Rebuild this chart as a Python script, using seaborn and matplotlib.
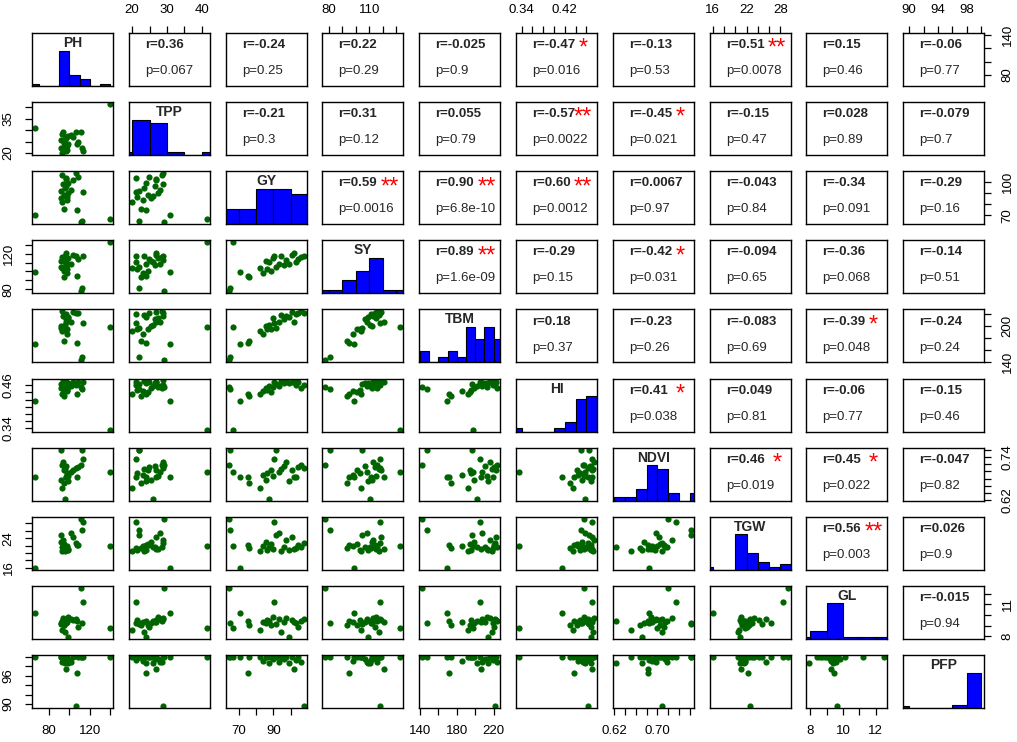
import numpy as np
import pandas as pd
import matplotlib
matplotlib.use("Agg")
import matplotlib.pyplot as plt
from matplotlib.ticker import MultipleLocator, FuncFormatter
import seaborn as sns

sns.set_style("white")
plt.rcParams["font.family"] = ["Liberation Sans", "DejaVu Sans"]

variables = ["PH", "TPP", "GY", "SY", "TBM", "HI", "NDVI", "TGW", "GL", "PFP"]

# one value per plot (26 plots)
PH = [66.3, 139.8, 111.0, 112.0, 113.0, 106.0, 107.0, 96.8, 95.0, 93.0, 97.5, 92.0, 98.0,
      96.0, 94.5, 99.0, 91.5, 102.0, 95.5, 97.0, 93.5, 98.5, 104.0, 96.5, 108.0, 92.5]
TPP = [31.0, 41.5, 29.2, 22.0, 21.0, 29.0, 24.0, 26.9, 22.5, 19.9, 23.0, 25.5, 21.5,
       26.0, 24.5, 27.5, 22.0, 28.0, 23.5, 26.5, 29.0, 24.0, 27.0, 21.0, 24.8, 28.5]
GY = [70.5, 66.5, 64.0, 65.0, 90.5, 107.5, 75.0, 102.0, 76.0, 82.0, 84.0, 85.5, 86.5,
      87.5, 88.5, 89.5, 91.5, 93.0, 94.5, 96.0, 97.5, 99.0, 101.0, 103.0, 104.5, 106.0]
SY = [99.0, 133.0, 77.6, 81.0, 118.0, 118.0, 95.3, 121.0, 93.5, 104.0, 98.0, 112.0, 103.0,
      110.5, 101.0, 115.0, 105.0, 108.0, 117.0, 107.0, 113.0, 109.0, 119.0, 111.0, 114.0, 116.0]
TBM = [169.5, 198.0, 142.5, 148.0, 205.0, 222.0, 172.0, 206.0, 174.0, 192.0, 186.0, 199.0, 195.0,
       202.0, 194.0, 213.0, 197.0, 207.0, 218.0, 211.0, 216.0, 214.0, 223.0, 219.0, 221.0, 224.0]
HI = [0.415, 0.335, 0.455, 0.450, 0.470, 0.462, 0.437, 0.470, 0.430, 0.435, 0.445, 0.452, 0.448,
      0.457, 0.442, 0.455, 0.465, 0.458, 0.472, 0.466, 0.474, 0.468, 0.471, 0.462, 0.469, 0.453]
NDVI = [0.685, 0.699, 0.719, 0.762, 0.735, 0.709, 0.683, 0.683, 0.668, 0.652, 0.690, 0.675, 0.695,
        0.623, 0.705, 0.688, 0.762, 0.698, 0.708, 0.715, 0.728, 0.672, 0.703, 0.685, 0.712, 0.718]
TGW = [15.96, 21.8, 29.3, 26.3, 28.5, 22.7, 22.2, 21.0, 21.2, 20.6, 21.8, 23.0, 20.8,
       21.5, 22.5, 21.0, 24.8, 25.5, 20.4, 21.6, 23.4, 20.9, 24.3, 21.3, 22.1, 21.7]
GL = [10.15, 8.73, 12.54, 9.2, 11.24, 9.65, 9.45, 9.3, 9.1, 8.6, 9.3, 9.2, 9.55,
      9.4, 9.05, 9.8, 9.15, 9.6, 8.4, 9.35, 9.7, 7.95, 9.5, 9.25, 8.9, 9.45]
PFP = [100.0, 100.0, 100.0, 100.0, 100.0, 89.6, 96.5, 97.5, 100.0, 100.0, 99.2, 100.0, 100.0,
       98.7, 100.0, 99.5, 100.0, 98.9, 100.0, 99.6, 100.0, 98.8, 100.0, 99.3, 100.0, 99.0]

# correlation labels of the upper panels, row by row
r_text = [
    ["0.36", "-0.24", "0.22", "-0.025", "-0.47", "-0.13", "0.51", "0.15", "-0.06"],
    ["-0.21", "0.31", "0.055", "-0.57", "-0.45", "-0.15", "0.028", "-0.079"],
    ["0.59", "0.90", "0.60", "0.0067", "-0.043", "-0.34", "-0.29"],
    ["0.89", "-0.29", "-0.42", "-0.094", "-0.36", "-0.14"],
    ["0.18", "-0.23", "-0.083", "-0.39", "-0.24"],
    ["0.41", "0.049", "-0.06", "-0.15"],
    ["0.46", "0.45", "-0.047"],
    ["0.56", "0.026"],
    ["-0.015"],
]
p_text = [
    ["0.067", "0.25", "0.29", "0.9", "0.016", "0.53", "0.0078", "0.46", "0.77"],
    ["0.3", "0.12", "0.79", "0.0022", "0.021", "0.47", "0.89", "0.7"],
    ["0.0016", "6.8e-10", "0.0012", "0.97", "0.84", "0.091", "0.16"],
    ["1.6e-09", "0.15", "0.031", "0.65", "0.068", "0.51"],
    ["0.37", "0.26", "0.69", "0.048", "0.24"],
    ["0.038", "0.81", "0.77", "0.46"],
    ["0.019", "0.022", "0.82"],
    ["0.003", "0.9"],
    ["0.94"],
]

bin_width = [10, 5, 10, 10, 10, 0.02, 0.02, 2, 1, 2]
tick_step = [20, 5, 10, 10, 20, 0.02, 0.02, 2, 1, 2]
tick_fmt = ["{:g}", "{:g}", "{:g}", "{:g}", "{:g}", "{:.2f}", "{:.2f}", "{:g}", "{:g}", "{:g}"]
x_labelled = [[80, 120], [20, 30, 40], [70, 90], [80, 110], [140, 180, 220],
              [0.34, 0.42], [0.62, 0.70], [16, 22, 28], [8, 10, 12], [90, 94, 98]]
y_labelled = [[80, 140], [20, 35], [70, 100], [80, 120], [140, 200],
              [0.34, 0.46], [0.62, 0.74], [16, 24], [8, 11], [90, 96]]

df = pd.DataFrame({"PH": PH, "TPP": TPP, "GY": GY, "SY": SY, "TBM": TBM,
                   "HI": HI, "NDVI": NDVI, "TGW": TGW, "GL": GL, "PFP": PFP})
n = len(variables)

lims = []
for v in variables:
    lo, hi = df[v].min(), df[v].max()
    pad = 0.04 * (hi - lo)
    lims.append((lo - pad, hi + pad))


def make_formatter(k, labelled):
    def f(val, pos):
        for lv in labelled:
            if np.isclose(val, lv, atol=1e-6):
                return tick_fmt[k].format(lv)
        return ""
    return FuncFormatter(f)


W, H = 1017, 742
fig = plt.figure(figsize=(W / 100, H / 100), dpi=100)
green = "#006400"

for i in range(n):
    for j in range(n):
        x0 = (32 + j * 96.8) / W
        y0 = 1 - (33 + i * 69.1 + 53) / H
        ax = fig.add_axes([x0, y0, 81 / W, 53 / H])
        xv, yv = variables[j], variables[i]

        if i == j:
            edges = np.arange(np.floor(df[xv].min() / bin_width[j]) * bin_width[j],
                              df[xv].max() + bin_width[j], bin_width[j])
            counts = np.histogram(df[xv], bins=edges)[0]
            sns.histplot(x=df[xv], bins=edges, ax=ax, color="blue", edgecolor="black",
                         linewidth=0.8, alpha=1)
            ax.set_xlim(lims[j])
            ax.set_ylim(0, counts.max() * 1.5)
            ax.text(0.5, 0.81, xv, transform=ax.transAxes, ha="center", va="center",
                    fontsize=10, fontweight="bold")
        elif i > j:
            sns.scatterplot(x=df[xv], y=df[yv], ax=ax, color=green, s=20, linewidth=0,
                            legend=False)
            ax.set_xlim(lims[j])
            ax.set_ylim(lims[i])
        else:
            ax.set_xlim(lims[j])
            ax.set_ylim(lims[i])
            r = r_text[i][j - i - 1]
            p = p_text[i][j - i - 1]
            ax.text(0.2, 0.77, "r=" + r, transform=ax.transAxes, ha="left", va="center",
                    fontsize=9.5, fontweight="bold")
            ax.text(0.2, 0.28, "p=" + p, transform=ax.transAxes, ha="left", va="center",
                    fontsize=9.5)
            pv = float(p)
            stars = "**" if pv < 0.01 else ("*" if pv < 0.05 else "")
            if stars:
                ax.text(0.83, 0.70, stars, transform=ax.transAxes, ha="center",
                        va="center", fontsize=17, color="red")

        ax.set_xlabel("")
        ax.set_ylabel("")
        for s in ax.spines.values():
            s.set_linewidth(1.0)
            s.set_color("black")

        ax.tick_params(axis="both", which="both", bottom=False, top=False, left=False,
                       right=False, labelbottom=False, labeltop=False, labelleft=False,
                       labelright=False, direction="out", length=5, width=0.9,
                       labelsize=9.5, pad=7.5, colors="black")
        ax.xaxis.set_major_locator(MultipleLocator(tick_step[j]))
        ax.yaxis.set_major_locator(MultipleLocator(tick_step[i]))
        ax.xaxis.set_major_formatter(make_formatter(j, x_labelled[j]))
        ax.yaxis.set_major_formatter(make_formatter(i, y_labelled[i]))
        if i == 0 and j % 2 == 1:
            ax.tick_params(axis="x", top=True, labeltop=True)
        if i == n - 1 and j % 2 == 0:
            ax.tick_params(axis="x", bottom=True, labelbottom=True)
        if j == 0 and i % 2 == 1:
            ax.tick_params(axis="y", left=True, labelleft=True)
            for t in ax.get_yticklabels():
                t.set_rotation(90)
                t.set_va("center")
        if j == n - 1 and i % 2 == 0:
            ax.tick_params(axis="y", right=True, labelright=True)
            for t in ax.get_yticklabels():
                t.set_rotation(90)
                t.set_va("center")
        if i == j:
            ax.set_yticks([])

fig.savefig("out.png", dpi=100)
